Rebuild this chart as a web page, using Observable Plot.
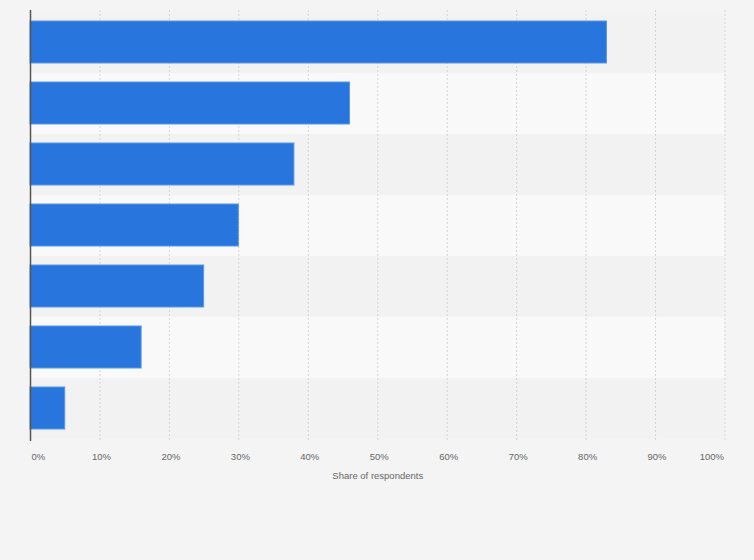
<!DOCTYPE html>
<html><head><meta charset="utf-8">
<script src="https://cdn.jsdelivr.net/npm/d3@7"></script>
<script src="https://cdn.jsdelivr.net/npm/@observablehq/plot@0.6"></script>
<style>
html,body{margin:0;padding:0;background:#f4f4f4;}
svg{display:block;}
</style>
</head><body><div id="chart"></div>
<script>
const categories = ["Category 1","Category 2","Category 3","Category 4","Category 5","Category 6","Category 7"];
const values = [83, 46, 38, 30, 25, 16, 5];
const tickValues = [0,10,20,30,40,50,60,70,80,90,100];
const tickLabels = ["0%","10%","20%","30%","40%","50%","60%","70%","80%","90%","100%"];
const xLabel = "Share of respondents";

const data = categories.map((c,i)=>({category:c, value:values[i], band:i}));
const ticks = tickValues.map((v,i)=>({v, label:tickLabels[i]}));
const last = ticks.length-1;

const chart = Plot.plot({
  width: 754, height: 560,
  marginLeft: 30, marginRight: 29.5, marginTop: 10, marginBottom: 119,
  style: {background:"#f4f4f4", fontFamily:"'Liberation Sans', Arial, sans-serif"},
  x: {domain:[0,100], axis:null},
  y: {domain:categories, axis:null, paddingInner:0, paddingOuter:0},
  marks: [
    Plot.barX(data, {y:"category", x1:0, x2:100, fill:d=>d.band%2===0?"#f2f2f2":"#f9f9f9", inset:0}),
    Plot.ruleX(tickValues.slice(1), {stroke:"#d6d6d6", strokeDasharray:"2,2", strokeWidth:1}),
    Plot.barX(data, {y:"category", x:"value", fill:"#2876dd", stroke:"#5b97e6", strokeWidth:1, insetTop:9, insetBottom:10}),
    Plot.ruleX([0], {stroke:"#555", strokeWidth:1.5}),
    Plot.text(ticks.slice(0,1), {x:"v", text:"label", frameAnchor:"bottom", dy:18, dx:1, textAnchor:"start", fill:"#666", fontSize:9.5}),
    Plot.text(ticks.slice(1,last), {x:"v", text:"label", frameAnchor:"bottom", dy:18, dx:1.5, fill:"#666", fontSize:9.5}),
    Plot.text(ticks.slice(last), {x:"v", text:"label", frameAnchor:"bottom", dy:18, dx:-1, textAnchor:"end", fill:"#666", fontSize:9.5}),
    Plot.text([xLabel], {x:50, frameAnchor:"bottom", dy:37, text:d=>d, fill:"#666", fontSize:9.5})
  ]
});
document.getElementById("chart").appendChild(chart);
</script></body></html>
